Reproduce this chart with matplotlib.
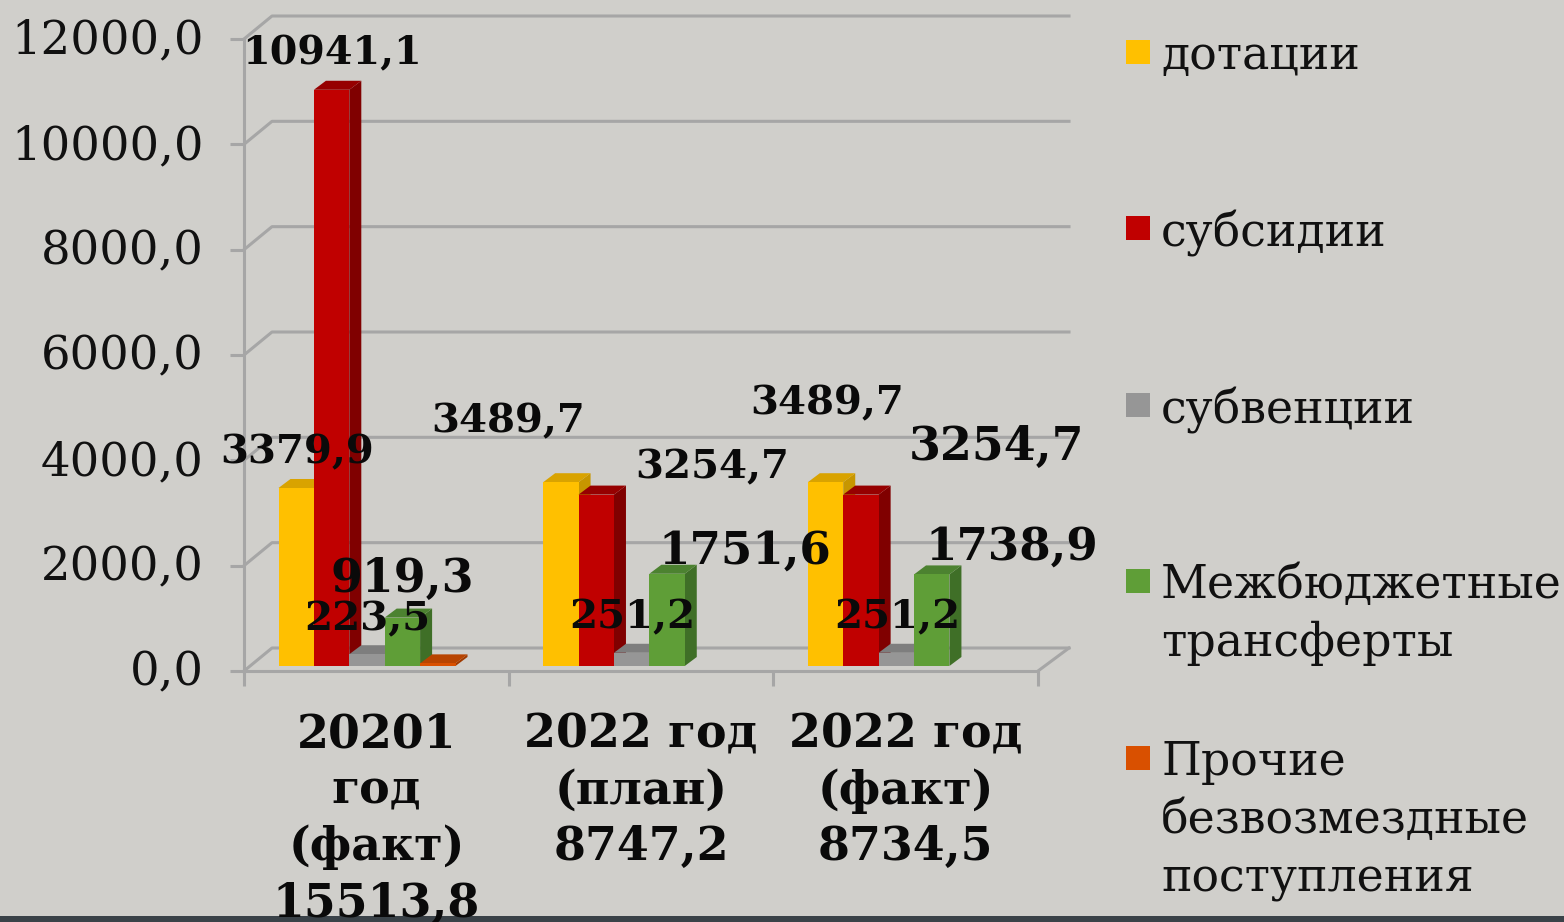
import matplotlib
matplotlib.use('Agg')
import matplotlib.pyplot as plt
from matplotlib.patches import Rectangle
from matplotlib.transforms import Affine2D, ScaledTranslation

# chart values
categories = ['20201\nгод\n(факт)\n15513,8', '2022 год\n(план)\n8747,2', '2022 год\n(факт)\n8734,5']
series_names = ['дотации', 'субсидии', 'субвенции', 'Межбюджетные\nтрансферты', 'Прочие\nбезвозмездные\nпоступления']
dotacii = [3379.9, 3489.7, 3489.7]
subsidii = [10941.1, 3254.7, 3254.7]
subvencii = [223.5, 251.2, 251.2]
transferty = [919.3, 1751.6, 1738.9]
prochie = [50.0, 0.0, 0.0]
y_ticks = [0, 2000, 4000, 6000, 8000, 10000, 12000]

W, H = 1564, 922
BG = '#D0CFCB'
GRID = '#A6A6A6'
FONT = 'DejaVu Serif'
LABEL_COLOR = '#0A0A0A'

front_colors = ['#FFC000', '#C00000', '#969696', '#5F9E37', '#D95000']
side_colors = ['#C79600', '#800000', '#6E6E6E', '#3F6F27', '#A03A00']
top_colors = ['#D9A300', '#960000', '#7E7E7E', '#4C8230', '#B84400']

fig = plt.figure(figsize=(W / 100, H / 100), dpi=100, facecolor=BG)
ax = fig.add_axes([244 / W, 1 - 671 / H, 794 / W, 632 / H], facecolor='none')
ax.set_xlim(0, 3)
ax.set_ylim(0, 12000)

# transform for placing text and swatches in picture pixels
px = Affine2D().scale(1 / W, -1 / H).translate(0, 1) + fig.transFigure

# pixel sizes converted to data units
ux = 3 / 794
uy = 12000 / 632
wall_dx, wall_dy = 28 * ux, 23 * uy
bar_w = 35.4 * ux
depth_x, depth_y = 12 * ux, 9 * uy
base = 5 * uy
start = 34.5 * ux

# walls and floor
for v in y_ticks:
    ax.plot([0, wall_dx, 3 + 31 * ux], [v, v + wall_dy, v + wall_dy], color=GRID, lw=2.2, clip_on=False, zorder=1)
ax.plot([3, 3 + 31 * ux], [0, wall_dy], color=GRID, lw=2.2, clip_on=False, zorder=1)

# bars
all_series = [dotacii, subsidii, subvencii, transferty, prochie]
for g in range(len(categories)):
    for s, values in enumerate(all_series):
        v = values[g]
        if v == 0:
            continue
        x0 = g + start + s * bar_w
        x1 = x0 + bar_w
        top = base + v
        z = 3 + s
        ax.fill([x1, x1 + depth_x, x1 + depth_x, x1], [base, base + depth_y, top + depth_y, top],
                color=side_colors[s], lw=0, clip_on=False, zorder=z)
        ax.fill([x0, x0 + depth_x, x1 + depth_x, x1], [top, top + depth_y, top + depth_y, top],
                color=top_colors[s], lw=0, clip_on=False, zorder=z)
        ax.bar(x0, v, width=bar_w, bottom=base, align='edge', color=front_colors[s], lw=0, clip_on=False, zorder=z)

# axes
for side in ['top', 'right']:
    ax.spines[side].set_visible(False)
for side in ['left', 'bottom']:
    ax.spines[side].set_color(GRID)
    ax.spines[side].set_linewidth(2.2)
ax.set_yticks(y_ticks)
ax.set_yticklabels([f'{v},0' for v in y_ticks], fontsize=33.5, family=FONT, color='#111111')
ax.tick_params(axis='y', length=10, width=2.2, color=GRID, pad=19)
for lab in ax.get_yticklabels():
    lab.set_transform(lab.get_transform() + ScaledTranslation(0, 3 / 100, fig.dpi_scale_trans))
ax.set_xticks([0, 1, 2, 3])
ax.set_xticklabels([])
ax.tick_params(axis='x', which='major', length=11, width=2.2, color=GRID)
ax.set_xticks([0.5, 1.5, 2.5], minor=True)
ax.set_xticklabels(categories, minor=True, fontsize=33, family=FONT, fontweight='bold',
                   color=LABEL_COLOR, linespacing=1.29)
ax.tick_params(axis='x', which='minor', length=0, pad=29)


def value_text(value, x, y, size):
    t = f'{value:.1f}'.replace('.', ',')
    fig.text(x, y + 2, t, transform=px, ha='center', va='center', fontsize=size, family=FONT,
             fontweight='bold', color=LABEL_COLOR, zorder=20)


# data labels
value_text(subsidii[0], 332, 51, 28.5)
value_text(dotacii[0], 297, 450, 29)
value_text(dotacii[1], 508, 419, 29)
value_text(dotacii[2], 827, 401, 29)
value_text(subsidii[1], 712, 465, 29)
value_text(subsidii[2], 996, 445, 33)
value_text(transferty[0], 402, 577, 33)
value_text(transferty[1], 745, 549, 32.5)
value_text(transferty[2], 1012, 545, 32.5)
value_text(subvencii[0], 367, 617, 29)
value_text(subvencii[1], 632, 615, 29)
value_text(subvencii[2], 897, 615, 29)

# legend
swatch_y = [52, 228, 405, 581, 758]
for name, color, y in zip(series_names, front_colors, swatch_y):
    fig.add_artist(Rectangle((1126, y - 12), 24, 24, transform=px, facecolor=color, edgecolor='none'))
    fig.text(1161, y - 18, name, transform=px, ha='left', va='top', fontsize=33, family=FONT,
             color='#111111', linespacing=1.36)

# dark strip along the bottom edge, under the axis labels
fig.add_artist(Rectangle((0, 916), W, 6, transform=px, facecolor='#3A4248', edgecolor='none', zorder=-1))

fig.savefig('out.png', dpi=100, facecolor=BG)
plt.close('all')
